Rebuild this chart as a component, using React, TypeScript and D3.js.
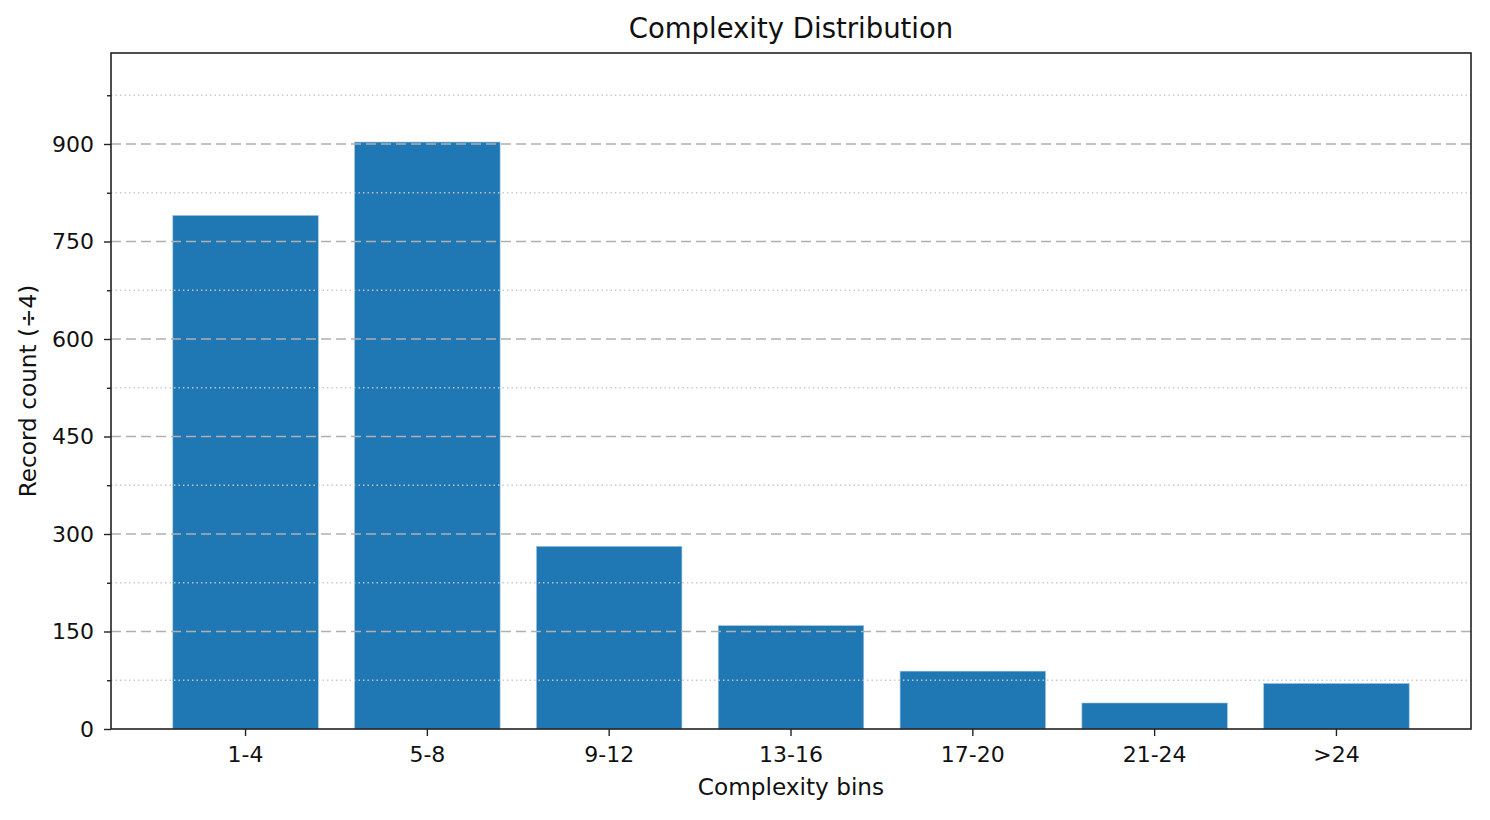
import React from 'react';
import * as d3 from 'd3';

const bins = ['1-4', '5-8', '9-12', '13-16', '17-20', '21-24', '>24'];
const counts = [790, 903, 281, 159, 89, 40, 70];
const majorTicks = [0, 150, 300, 450, 600, 750, 900];
const minorTicks = [75, 225, 375, 525, 675, 825, 975];

const W = 1490;
const H = 820;
const margin = { top: 53, right: 19, bottom: 91, left: 111 };
const FONT = 'DejaVu Sans, sans-serif';

export default function App() {
    const innerWidth = W - margin.left - margin.right;
    const innerHeight = H - margin.top - margin.bottom;

    const xScale = d3.scaleBand()
        .domain(bins)
        .range([0, innerWidth])
        .paddingInner(0.2)
        .paddingOuter(0.34);

    const yScale = d3.scaleLinear()
        .domain([0, 1040])
        .range([innerHeight, 0]);

    const xAxis = d3.axisBottom(xScale).tickSize(7).tickPadding(10);
    const yAxis = d3.axisLeft(yScale).tickValues(majorTicks).tickSize(7).tickPadding(10);
    const yMinor = d3.axisLeft(yScale).tickValues(minorTicks).tickSize(4).tickFormat(() => '');

    const styleAxis = (node, call) => {
        if (!node) return;
        const g = d3.select(node);
        g.call(call);
        g.select('.domain').remove();
        g.selectAll('line').attr('stroke', '#222').attr('stroke-width', 1.4);
        g.selectAll('text')
            .attr('font-family', FONT)
            .attr('font-size', 22)
            .attr('fill', '#111');
    };

    return (
        <svg width={W} height={H} style={{ position: 'absolute', left: 0, top: 0 }}>
            <rect width={W} height={H} fill="white" />
            <g transform={`translate(${margin.left}, ${margin.top})`}>
                {bins.map((d, i) => (
                    <rect
                        key={d}
                        x={xScale(d)}
                        y={yScale(counts[i])}
                        width={xScale.bandwidth()}
                        height={innerHeight - yScale(counts[i])}
                        fill="#1f77b4"
                        stroke="#9cc3e0"
                        strokeWidth={0.6}
                    />
                ))}
                {majorTicks.slice(1).map(t => (
                    <line key={'M' + t} x1={0} x2={innerWidth} y1={yScale(t)} y2={yScale(t)}
                        stroke="#b0b0b0" strokeWidth={1.6} strokeDasharray="10,5" />
                ))}
                {minorTicks.map(t => (
                    <line key={'m' + t} x1={0} x2={innerWidth} y1={yScale(t)} y2={yScale(t)}
                        stroke="#c8c8c8" strokeWidth={1.3} strokeDasharray="1.4,3.1" />
                ))}
                <g transform={`translate(0, ${innerHeight})`} ref={node => styleAxis(node, xAxis)} />
                <g ref={node => styleAxis(node, yAxis)} />
                <g ref={node => styleAxis(node, yMinor)} />
                <rect x={0} y={0} width={innerWidth} height={innerHeight}
                    fill="none" stroke="#222" strokeWidth={1.6} />
            </g>
            <text x={margin.left + innerWidth / 2} y={38} textAnchor="middle"
                fontFamily={FONT} fontSize={27.5} fill="#111">
                Complexity Distribution
            </text>
            <text x={margin.left + innerWidth / 2} y={795} textAnchor="middle"
                fontFamily={FONT} fontSize={23.2} fill="#111">
                Complexity bins
            </text>
            <text transform={`translate(36, ${margin.top + innerHeight / 2}) rotate(-90)`} textAnchor="middle"
                fontFamily={FONT} fontSize={23.2} fill="#111">
                Record count (÷4)
            </text>
        </svg>
    );
}
